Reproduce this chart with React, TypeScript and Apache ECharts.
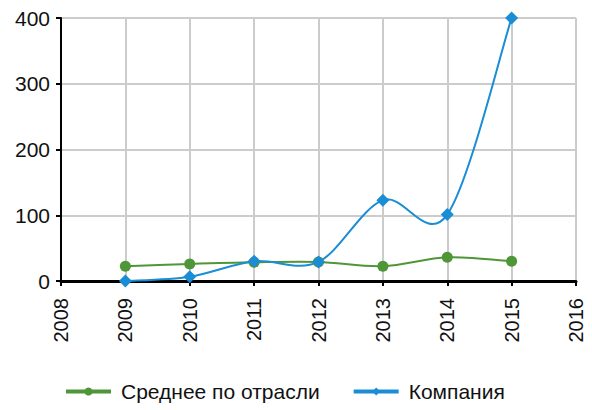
import React, { useEffect, useRef } from "react";
import * as echarts from "echarts";

const years = [2009, 2010, 2011, 2012, 2013, 2014, 2015];
const industryAvg = [22.5, 26, 28.5, 29, 22.5, 36, 30];
const company = [0, 6.5, 30, 29, 123, 101, 400];
const seriesNames = ["Среднее по отрасли", "Компания"];
const colors = ["#4f9638", "#1a8dd4"];

function curvePath(pts: number[][]): string {
  // Catmull-Rom style smoothing converted to cubic Bezier segments
  let d = `M${pts[0][0]},${pts[0][1]}`;
  for (let i = 0; i < pts.length - 1; i++) {
    const p0 = pts[i - 1] || pts[i];
    const p1 = pts[i];
    const p2 = pts[i + 1];
    const p3 = pts[i + 2] || pts[i + 1];
    const c1x = p1[0] + (p2[0] - p0[0]) / 6;
    const c1y = p1[1] + (p2[1] - p0[1]) / 6;
    const c2x = p2[0] - (p3[0] - p1[0]) / 6;
    const c2y = p2[1] - (p3[1] - p1[1]) / 6;
    d += ` C${c1x},${c1y} ${c2x},${c2y} ${p2[0]},${p2[1]}`;
  }
  return d;
}

function curveSeries(values: number[], color: string) {
  return {
    type: "custom",
    silent: true,
    data: years.map((y, i) => [y, values[i]]),
    renderItem: (params: any, api: any) => {
      if (params.dataIndex !== 0) return null;
      const pts = years.map((y, i) => api.coord([y, values[i]]));
      return {
        type: "path",
        shape: { pathData: curvePath(pts) },
        style: { fill: "none", stroke: color, lineWidth: 2 },
      };
    },
  };
}

export default function App() {
  const ref = useRef<HTMLDivElement>(null);
  useEffect(() => {
    const chart = echarts.init(ref.current!, undefined, { renderer: "svg" });
    const font = "'Liberation Sans', Arial, sans-serif";
    chart.setOption({
      animation: false,
      grid: { left: 61, right: 16, top: 18, bottom: 129, containLabel: false },
      legend: {
        top: 381,
        left: 64,
        padding: 0,
        itemWidth: 45,
        itemHeight: 10,
        itemGap: 32,
        textStyle: { fontFamily: font, fontSize: 21, color: "#111", padding: [0, 0, 0, 5] },
        data: seriesNames.map((n, i) => ({
          name: n,
          itemStyle: { color: colors[i] },
          lineStyle: { color: colors[i], width: 4, opacity: 1 },
        })),
      },
      xAxis: {
        type: "value",
        min: 2008,
        max: 2016,
        interval: 1,
        axisLine: { show: true, onZero: false, lineStyle: { color: "#000", width: 3 } },
        axisTick: { show: true, length: 5, lineStyle: { color: "#000", width: 2 } },
        axisLabel: {
          rotate: 90,
          fontFamily: font,
          fontSize: 20,
          color: "#111",
          margin: 17,
          formatter: (v: number) => String(v),
        },
        splitLine: { show: true, lineStyle: { color: "#cccccc", width: 2 } },
      },
      yAxis: {
        type: "value",
        min: 0,
        max: 400,
        interval: 100,
        axisLine: { show: true, lineStyle: { color: "#000", width: 2 } },
        axisTick: { show: true, length: 5, lineStyle: { color: "#000", width: 2 } },
        axisLabel: { fontFamily: font, fontSize: 21, color: "#111", margin: 11, padding: [0, 0, 5, 0] },
        splitLine: { show: true, lineStyle: { color: "#cccccc", width: 2 } },
      },
      series: [
        curveSeries(industryAvg, colors[0]),
        {
          name: seriesNames[0],
          type: "line",
          data: years.map((y, i) => [y, industryAvg[i]]),
          symbol: "circle",
          symbolSize: 11,
          itemStyle: { color: colors[0] },
          lineStyle: { color: colors[0], width: 2, opacity: 0 },
        },
        curveSeries(company, colors[1]),
        {
          name: seriesNames[1],
          type: "line",
          data: years.map((y, i) => [y, company[i]]),
          symbol: "diamond",
          symbolSize: 13,
          itemStyle: { color: colors[1] },
          lineStyle: { color: colors[1], width: 2, opacity: 0 },
        },
      ],
    });
    return () => chart.dispose();
  }, []);
  return <div ref={ref} style={{ width: 592, height: 410, position: "absolute", left: 0, top: 0 }} />;
}
